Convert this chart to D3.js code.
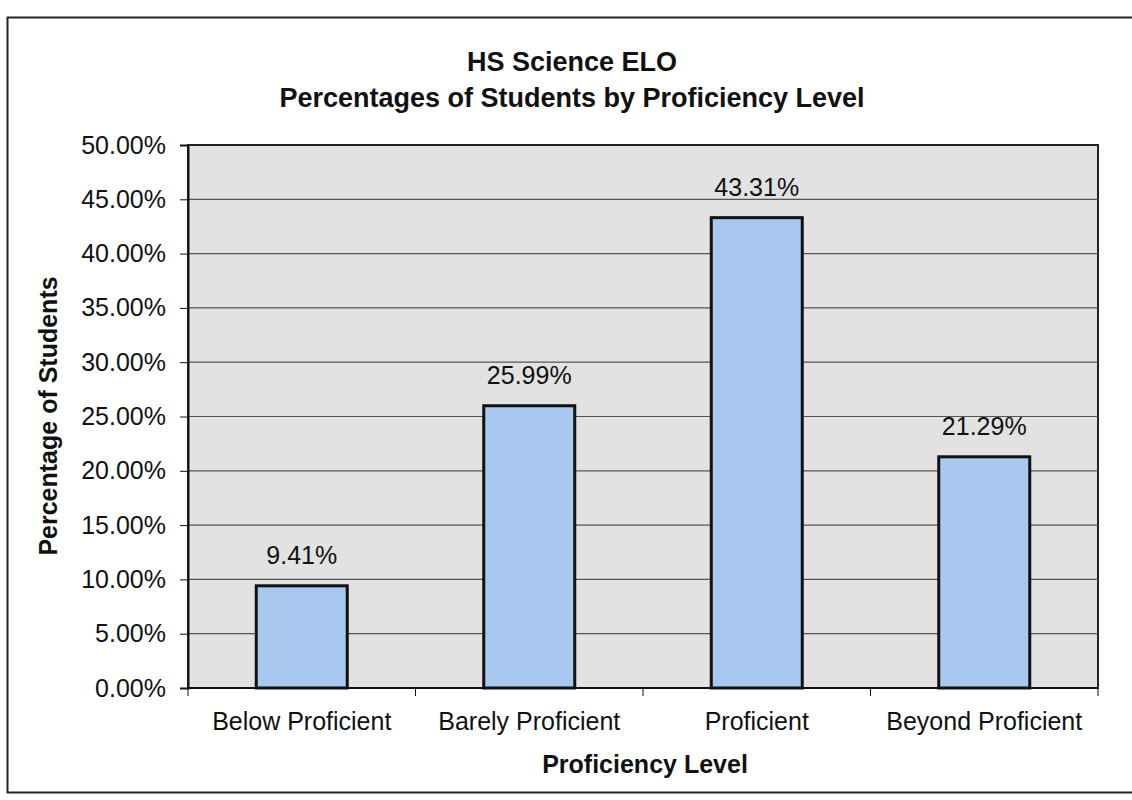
<!DOCTYPE html>
<html>
<head>
<meta charset="utf-8">
<script src="https://cdn.jsdelivr.net/npm/d3@7"></script>
<style>
  body { margin: 0; background: #fff; }
  svg { display: block; font-family: "Liberation Sans", Arial, sans-serif; }
</style>
</head>
<body>
<div id="chart"></div>
<script>
// Data
const categories = ['Below Proficient', 'Barely Proficient', 'Proficient', 'Beyond Proficient'];
const percentages = [9.41, 25.99, 43.31, 21.29];
const yTicks = [0, 5, 10, 15, 20, 25, 30, 35, 40, 45, 50];
const titleLines = ['HS Science ELO', 'Percentages of Students by Proficiency Level'];

const W = 1132, H = 800;
const margin = {top: 145, right: 34, bottom: 112, left: 188};
const width = W - margin.left - margin.right,
  height = H - margin.top - margin.bottom;

const svg = d3.select('#chart')
  .append('svg')
  .attr('width', W)
  .attr('height', H);

// outer frame
svg.append('rect')
  .attr('x', 7.5).attr('y', 17.5)
  .attr('width', 1130).attr('height', 775)
  .attr('fill', '#fff')
  .attr('stroke', '#222')
  .attr('stroke-width', 2);

// titles
svg.selectAll('.title')
  .data(titleLines)
  .enter()
  .append('text')
  .attr('x', 572)
  .attr('y', (d, i) => 71 + i * 36)
  .attr('text-anchor', 'middle')
  .attr('font-size', 27)
  .attr('font-weight', 'bold')
  .attr('fill', '#111')
  .text(d => d);

const g = svg.append('g')
  .attr('transform', `translate(${margin.left},${margin.top})`);

const xScale = d3.scaleBand()
  .domain(categories)
  .range([0, width])
  .paddingInner(0.6)
  .paddingOuter(0.3);

const yScale = d3.scaleLinear()
  .domain([0, 50])
  .range([height, 0]);

// plot background
g.append('rect')
  .attr('width', width)
  .attr('height', height)
  .attr('fill', '#e2e2e2')
  .attr('stroke', '#222')
  .attr('stroke-width', 2);

// gridlines
g.selectAll('.grid')
  .data(yTicks.filter(t => t > 0 && t < 50))
  .enter()
  .append('line')
  .attr('x1', 0).attr('x2', width)
  .attr('y1', d => yScale(d)).attr('y2', d => yScale(d))
  .attr('stroke', '#555')
  .attr('stroke-width', 1.2);

// bars
g.selectAll('.bar')
  .data(percentages)
  .enter()
  .append('rect')
  .attr('x', (d, i) => xScale(categories[i]))
  .attr('y', d => yScale(d))
  .attr('width', xScale.bandwidth())
  .attr('height', d => height - yScale(d))
  .attr('fill', '#a8c8f0')
  .attr('stroke', '#111')
  .attr('stroke-width', 3);

// value labels
g.selectAll('.val')
  .data(percentages)
  .enter()
  .append('text')
  .attr('x', (d, i) => xScale(categories[i]) + xScale.bandwidth() / 2)
  .attr('y', d => yScale(d) - 22)
  .attr('text-anchor', 'middle')
  .attr('font-size', 25)
  .attr('fill', '#111')
  .text(d => d.toFixed(2) + '%');

// y axis
const yAxis = g.append('g')
  .call(d3.axisLeft(yScale).tickValues(yTicks).tickSize(8).tickPadding(14)
    .tickFormat(d => d.toFixed(2) + '%'));
yAxis.select('.domain').attr('stroke', '#111').attr('stroke-width', 2);
yAxis.selectAll('.tick line').attr('stroke', '#111');
yAxis.selectAll('text').attr('font-size', 25).attr('fill', '#111')
  .attr('font-family', '"Liberation Sans", Arial, sans-serif');

// x axis: ticks at category boundaries
const xAxis = g.append('g')
  .attr('transform', `translate(0,${height})`);
xAxis.append('line')
  .attr('x1', 0).attr('x2', width)
  .attr('stroke', '#111').attr('stroke-width', 2);
xAxis.selectAll('.xtick')
  .data(d3.range(categories.length + 1))
  .enter()
  .append('line')
  .attr('x1', i => i * width / categories.length)
  .attr('x2', i => i * width / categories.length)
  .attr('y1', 0).attr('y2', 8)
  .attr('stroke', '#111');
xAxis.selectAll('.xlab')
  .data(categories)
  .enter()
  .append('text')
  .attr('x', d => xScale(d) + xScale.bandwidth() / 2)
  .attr('y', 42)
  .attr('text-anchor', 'middle')
  .attr('font-size', 25)
  .attr('fill', '#111')
  .text(d => d);

// axis titles
svg.append('text')
  .attr('x', 645)
  .attr('y', 773)
  .attr('text-anchor', 'middle')
  .attr('font-size', 25)
  .attr('font-weight', 'bold')
  .attr('fill', '#111')
  .text('Proficiency Level');

svg.append('text')
  .attr('transform', 'translate(57,416) rotate(-90)')
  .attr('text-anchor', 'middle')
  .attr('font-size', 25)
  .attr('font-weight', 'bold')
  .attr('fill', '#111')
  .text('Percentage of Students');
</script>
</body>
</html>
